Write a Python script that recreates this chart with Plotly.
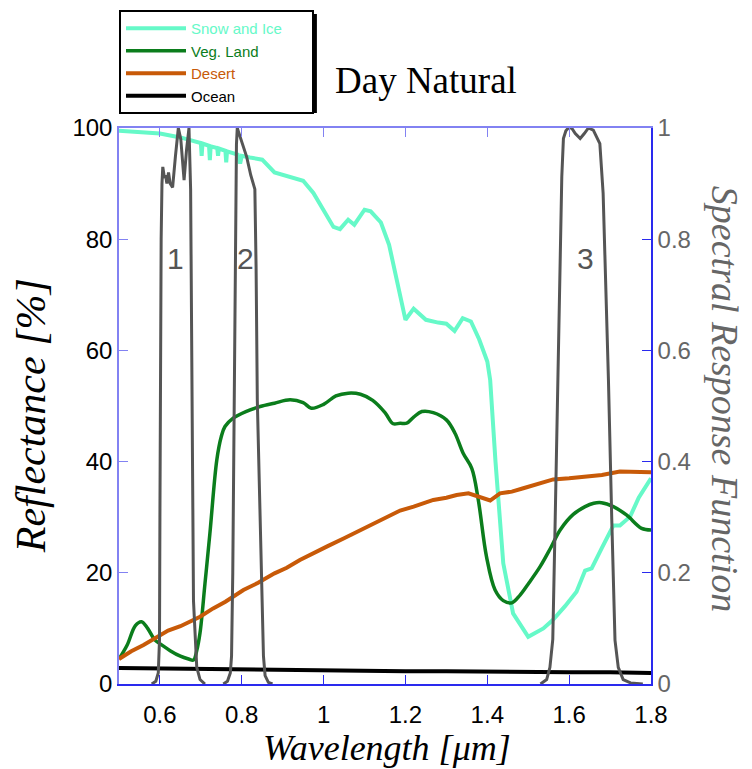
import plotly.graph_objects as go

# reflectance spectra [%]
snow_wl = [0.50, 0.55, 0.60, 0.65, 0.68, 0.70, 0.702, 0.704, 0.72, 0.722, 0.724,
           0.74, 0.742, 0.744, 0.76, 0.762, 0.764, 0.78, 0.79, 0.796, 0.80, 0.82,
           0.85, 0.88, 0.92, 0.95, 0.975, 1.00, 1.024, 1.04, 1.06, 1.075, 1.10,
           1.115, 1.14, 1.16, 1.18, 1.20, 1.22, 1.25, 1.28, 1.30, 1.32, 1.34,
           1.36, 1.38, 1.40, 1.407, 1.42, 1.439, 1.463, 1.50, 1.537, 1.56, 1.59,
           1.618, 1.639, 1.655, 1.68, 1.708, 1.724, 1.749, 1.77, 1.80]
snow_ice = [99.5, 99.3, 99.0, 98.3, 97.8, 97.3, 95.0, 97.2, 96.8, 94.2, 96.7,
            96.4, 95.0, 96.3, 95.9, 93.8, 95.8, 95.5, 95.2, 93.6, 95.0, 94.7,
            94.3, 92.0, 91.2, 90.5, 88.3, 85.0, 82.2, 81.8, 83.5, 82.6, 85.3,
            85.0, 83.0, 79.0, 72.0, 65.5, 67.5, 65.5, 65.0, 64.8, 63.5, 65.8,
            65.2, 62.0, 58.0, 54.7, 40.0, 21.7, 12.7, 8.5, 10.0, 11.5, 14.0,
            16.6, 20.4, 20.8, 24.5, 28.5, 28.5, 30.1, 33.5, 37.0]

veg_wl = [0.50, 0.52, 0.54, 0.555, 0.57, 0.588, 0.605, 0.625, 0.65, 0.67, 0.682,
          0.69, 0.698, 0.71, 0.722, 0.739, 0.75, 0.759, 0.779, 0.81, 0.845, 0.88,
          0.918, 0.95, 0.97, 1.00, 1.03, 1.06, 1.09, 1.12, 1.15, 1.17, 1.187,
          1.203, 1.22, 1.24, 1.268, 1.30, 1.321, 1.341, 1.362, 1.378, 1.398,
          1.419, 1.439, 1.46, 1.48, 1.50, 1.529, 1.555, 1.578, 1.61, 1.639,
          1.66, 1.679, 1.708, 1.74, 1.777, 1.80]
veg_land = [4.5, 7.0, 10.5, 11.2, 10.0, 7.9, 7.0, 6.0, 5.0, 4.5, 4.3,
            6.0, 9.2, 18.0, 27.0, 40.3, 44.5, 46.3, 47.8, 49.0, 49.9, 50.5,
            51.1, 50.6, 49.6, 50.3, 51.8, 52.3, 52.1, 51.0, 48.8, 46.8, 46.9,
            46.9, 48.0, 49.0, 48.8, 47.5, 45.1, 41.5, 38.8, 33.1, 22.9,
            16.9, 15.0, 14.6, 16.0, 18.0, 21.1, 24.5, 27.7, 30.5, 31.9,
            32.5, 32.6, 31.9, 30.4, 28.0, 27.7]

desert_wl = [0.50, 0.53, 0.56, 0.592, 0.62, 0.65, 0.698, 0.73, 0.76, 0.804, 0.84,
             0.88, 0.91, 0.942, 0.98, 1.01, 1.05, 1.08, 1.12, 1.15, 1.187, 1.22,
             1.268, 1.30, 1.325, 1.354, 1.378, 1.407, 1.431, 1.46, 1.488, 1.52,
             1.561, 1.60, 1.643, 1.68, 1.724, 1.76, 1.80]
desert = [4.5, 5.9, 7.0, 8.4, 9.6, 10.4, 12.1, 13.6, 14.8, 16.9, 18.2,
          19.9, 20.9, 22.3, 23.6, 24.8, 26.2, 27.3, 28.6, 29.8, 31.2, 31.9,
          33.1, 33.5, 34.0, 34.3, 33.7, 33.0, 34.3, 34.6, 35.2, 35.9,
          36.8, 37.0, 37.4, 37.6, 38.2, 38.1, 38.1]

ocean_wl = [0.50, 0.60, 0.70, 0.80, 0.90, 1.00, 1.10, 1.20, 1.30, 1.40, 1.50,
            1.60, 1.70, 1.80]
ocean = [2.9, 2.8, 2.7, 2.6, 2.5, 2.4, 2.4, 2.3, 2.3, 2.2, 2.2, 2.1, 2.1, 2.0]

# spectral response functions (0..1)
b1_wl = [0.580, 0.590, 0.596, 0.599, 0.600, 0.601, 0.603, 0.605, 0.607, 0.611,
         0.614, 0.617, 0.621, 0.625, 0.631, 0.638, 0.645, 0.651, 0.659, 0.665,
         0.671, 0.675, 0.677, 0.678, 0.682, 0.690, 0.698, 0.710]
b1 = [0.0, 0.005, 0.02, 0.08, 0.3, 0.6, 0.8, 0.90, 0.93, 0.91,
      0.915, 0.90, 0.92, 0.90, 0.893, 0.95, 1.0, 0.98, 0.906, 0.96,
      1.0, 0.89, 0.7, 0.51, 0.15, 0.03, 0.008, 0.0]

b2_wl = [0.755, 0.765, 0.772, 0.775, 0.778, 0.781, 0.784, 0.787, 0.789, 0.795,
         0.800, 0.812, 0.822, 0.832, 0.835, 0.838, 0.845, 0.850, 0.853, 0.857,
         0.865, 0.875]
b2 = [0.0, 0.005, 0.02, 0.05, 0.2, 0.5, 0.85, 0.97, 1.0, 0.985,
      0.975, 0.948, 0.915, 0.89, 0.75, 0.51, 0.3, 0.15, 0.05, 0.015,
      0.003, 0.0]

b3_wl = [1.530, 1.545, 1.553, 1.560, 1.566, 1.573, 1.577, 1.582, 1.586, 1.592,
         1.598, 1.606, 1.615, 1.627, 1.637, 1.647, 1.659, 1.675, 1.683, 1.692,
         1.696, 1.704, 1.712, 1.720, 1.732, 1.750, 1.780]
b3 = [0.0, 0.008, 0.03, 0.08, 0.3, 0.547, 0.673, 0.912, 0.981, 0.995,
      1.0, 1.0, 0.99, 0.981, 0.99, 1.0, 0.996, 0.972, 0.883, 0.673,
      0.547, 0.3, 0.079, 0.03, 0.008, 0.002, 0.0]

band_labels = ["1", "2", "3"]
band_label_x = [0.637, 0.81, 1.64]

SERIF = "Liberation Serif"
SANS = "Liberation Sans"
GRAY = "#555555"
BLUE_DK = "#2a2aee"
BLUE_LT = "#8282f2"

fig = go.Figure()

def span(txt, col):
    return f"<span style='color:{col}'>{txt}</span>"

fig.add_trace(go.Scatter(x=snow_wl, y=snow_ice, mode="lines",
                         name=span("Snow and Ice", "#66f9c8") + "&nbsp;" * 6,
                         line=dict(color="#66f9c8", width=4)))
fig.add_trace(go.Scatter(x=veg_wl, y=veg_land, mode="lines",
                         name=span("Veg. Land", "#0b7d1c"),
                         line=dict(color="#0b7d1c", width=3.5, shape="spline")))
fig.add_trace(go.Scatter(x=desert_wl, y=desert, mode="lines",
                         name=span("Desert", "#c85a08"),
                         line=dict(color="#c85a08", width=4)))
fig.add_trace(go.Scatter(x=ocean_wl, y=ocean, mode="lines",
                         name=span("Ocean", "#000000"),
                         line=dict(color="#000000", width=4)))

for bx, by in [(b1_wl, b1), (b2_wl, b2), (b3_wl, b3)]:
    fig.add_trace(go.Scatter(x=bx, y=by, mode="lines", yaxis="y2",
                             showlegend=False,
                             line=dict(color=GRAY, width=3)))

# invisible trace so the top axis is drawn
fig.add_trace(go.Scatter(x=[0.5], y=[0], xaxis="x2", mode="markers",
                         marker=dict(opacity=0), showlegend=False,
                         hoverinfo="skip"))

for lab, lx in zip(band_labels, band_label_x):
    fig.add_annotation(x=lx, y=76.5, xref="x", yref="y", text=lab,
                       showarrow=False, font=dict(family=SANS, size=30, color=GRAY))

fig.add_annotation(x=0.577, y=1.086, xref="paper", yref="paper",
                   xanchor="center", yanchor="middle",
                   text="Day Natural", showarrow=False,
                   font=dict(family=SERIF, size=37, color="black"))
fig.add_annotation(x=0.504, y=-0.116, xref="paper", yref="paper",
                   xanchor="center", yanchor="middle",
                   text="Wavelength [<i>μ</i>m]", showarrow=False,
                   font=dict(family=SERIF, size=36, color="black", style="italic"))
fig.add_annotation(x=-0.165, y=0.482, xref="paper", yref="paper",
                   xanchor="center", yanchor="middle",
                   text="Reflectance [%]", showarrow=False, textangle=-90,
                   font=dict(family=SERIF, size=42, color="black", style="italic"))
fig.add_annotation(x=1.139, y=0.513, xref="paper", yref="paper",
                   xanchor="center", yanchor="middle",
                   text="Spectral Response Function", showarrow=False, textangle=90,
                   font=dict(family=SERIF, size=38, color="#666666", style="italic"))

# drop shadow behind the legend box
fig.add_shape(type="rect", xref="paper", yref="paper", layer="below",
              x0=0.006, x1=0.372, y0=1.027, y1=1.205,
              fillcolor="black", line=dict(width=0))

fig.update_layout(
    width=744, height=761,
    margin=dict(l=111, r=101, t=0, b=85),
    plot_bgcolor="white", paper_bgcolor="white",
    showlegend=True,
    legend=dict(xref="paper", yref="container", x=0, y=0.9974,
                xanchor="left", yanchor="top",
                bgcolor="white", bordercolor="black", borderwidth=2,
                font=dict(family=SANS, size=15), tracegroupgap=0,
                itemwidth=60),
    xaxis=dict(range=[0.5, 1.8], dtick=0.2, tick0=0, ticks="inside", ticklen=9,
               tickcolor=BLUE_DK, showline=True, linecolor=BLUE_DK, linewidth=1.5,
               showgrid=False, zeroline=False,
               tickfont=dict(family=SANS, size=24, color="black"),
               ticklabelstandoff=8),
    xaxis2=dict(range=[0.5, 1.8], dtick=0.2, tick0=0, ticks="inside", ticklen=9,
                tickcolor=BLUE_LT, showline=True, linecolor=BLUE_LT, linewidth=1.5,
                overlaying="x", side="top", showticklabels=False,
                showgrid=False, zeroline=False),
    yaxis=dict(range=[0, 100], dtick=20, ticks="inside", ticklen=9,
               tickcolor=BLUE_LT, showline=True, linecolor=BLUE_LT, linewidth=1.5,
               showgrid=False, zeroline=False,
               tickfont=dict(family=SANS, size=24, color="black")),
    yaxis2=dict(range=[0, 1], dtick=0.2, ticks="inside", ticklen=9,
                tickcolor=BLUE_DK, showline=True, linecolor=BLUE_DK, linewidth=1.5,
                overlaying="y", side="right", showgrid=False, zeroline=False,
                tickfont=dict(family=SANS, size=24, color="#666666")),
)

fig.write_html("out.html")
